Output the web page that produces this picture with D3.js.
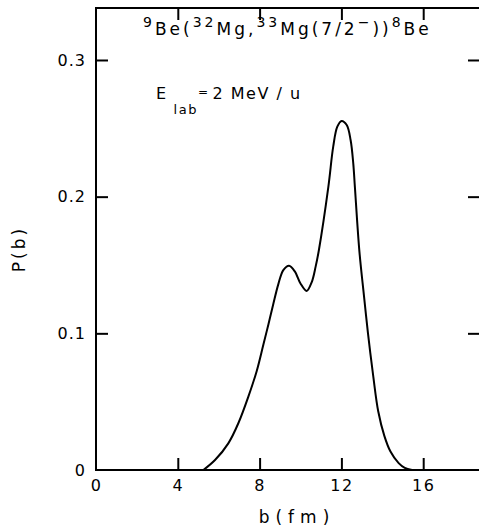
<!DOCTYPE html>
<html>
<head>
<meta charset="utf-8">
<script src="https://cdn.jsdelivr.net/npm/d3@7"></script>
<style>
  html, body { margin: 0; padding: 0; background: #fff; }
  svg { display: block; }
  text { font-family: "DejaVu Sans", sans-serif; fill: #000; }
</style>
</head>
<body>
<svg id="chart" width="479" height="530"></svg>
<script>
// Impact parameter b (fm)
const bValues = [5.25, 5.82, 6.47, 6.96, 7.45, 7.86, 8.18, 8.43, 8.67, 8.92, 9.16, 9.44, 9.73, 10.0, 10.3, 10.55, 10.74, 10.9, 11.36, 11.6, 11.8, 12.01, 12.26, 12.45, 12.58, 12.66, 12.88, 13.1, 13.3, 13.56, 13.8, 14.1, 14.4, 14.8, 15.1, 15.45];
// Probability P(b)
const pValues = [0.0, 0.0073, 0.0195, 0.0342, 0.0537, 0.0725, 0.0915, 0.1065, 0.1215, 0.1362, 0.1463, 0.1495, 0.1451, 0.1365, 0.131, 0.1375, 0.1488, 0.161, 0.207, 0.2366, 0.2512, 0.2554, 0.2524, 0.2415, 0.2244, 0.207, 0.160, 0.128, 0.100, 0.0683, 0.043, 0.025, 0.0135, 0.005, 0.0015, 0.0];
const xTicks = [0, 4, 8, 12, 16];
const xTickLabels = ["0", "4", "8", "12", "16"];
const yTicks = [0, 0.1, 0.2, 0.3];
const yTickLabels = ["0", "0.1", "0.2", "0.3"];

const svg = d3.select("#chart");
const mLeft = 96, mTop = 8, mBottom = 470, mRight = 481;

const x = d3.scaleLinear().domain([0, 16]).range([mLeft, mLeft + 16 * 20.45]);
const y = d3.scaleLinear().domain([0, 0.3]).range([mBottom, mBottom - 0.3 * 1366.7]);

// Frame
svg.append("rect")
  .attr("x", mLeft).attr("y", mTop)
  .attr("width", mRight - mLeft).attr("height", mBottom - mTop)
  .attr("fill", "none").attr("stroke", "#000").attr("stroke-width", 2);

// Bottom axis
const xAxis = d3.axisBottom(x).tickValues(xTicks)
  .tickFormat((d, i) => xTickLabels[i]).tickSize(-12).tickPadding(10);
const gx = svg.append("g").attr("transform", `translate(0,${mBottom})`).call(xAxis);
gx.select(".domain").remove();
gx.selectAll(".tick line").attr("stroke-width", 2).filter(d => d === 0).remove();
gx.selectAll(".tick text").attr("font-size", 16).attr("letter-spacing", 1.5)
  .attr("font-family", "DejaVu Sans");

// Top axis ticks
const xTop = d3.axisTop(x).tickValues(xTicks.filter(d => d > 0)).tickSize(-12).tickFormat("");
const gxt = svg.append("g").attr("transform", `translate(0,${mTop})`).call(xTop);
gxt.select(".domain").remove();
gxt.selectAll(".tick line").attr("stroke-width", 2);

// Left axis
const yAxis = d3.axisLeft(y).tickValues(yTicks)
  .tickFormat((d, i) => yTickLabels[i]).tickSize(-12).tickPadding(10);
const gy = svg.append("g").attr("transform", `translate(${mLeft},0)`).call(yAxis);
gy.select(".domain").remove();
gy.selectAll(".tick line").attr("stroke-width", 2).filter(d => d === 0).remove();
gy.selectAll(".tick text").attr("font-size", 16).attr("letter-spacing", 1)
  .attr("font-family", "DejaVu Sans");

// Right axis ticks
const yRight = d3.axisRight(y).tickValues(yTicks.filter(d => d > 0)).tickSize(-13).tickFormat("");
const gyr = svg.append("g").attr("transform", `translate(${mRight},0)`).call(yRight);
gyr.select(".domain").remove();
gyr.selectAll(".tick line").attr("stroke-width", 2);

// Curve
const data = bValues.map((b, i) => [b, pValues[i]]);
const line = d3.line().x(d => x(d[0])).y(d => y(Math.max(0, d[1]))).curve(d3.curveCatmullRom.alpha(0.5));
svg.append("path").datum(data)
  .attr("d", line).attr("fill", "none").attr("stroke", "#000").attr("stroke-width", 2);

// Axis titles
svg.append("text").attr("x", 297).attr("y", 523).attr("text-anchor", "middle")
  .attr("font-size", 17).attr("letter-spacing", 6).text("b(fm)");
svg.append("text").attr("transform", "translate(25,249) rotate(-90)")
  .attr("text-anchor", "middle").attr("font-size", 17).attr("letter-spacing", 3).text("P(b)");

// Reaction label
const t = svg.append("text").attr("x", 143).attr("y", 35).attr("font-size", 17).attr("letter-spacing", 3);
const parts = [
  ["9", true], ["Be(", false], ["32", true], ["Mg,", false], ["33", true],
  ["Mg(7/2", false], ["\u2212", true], ["))", false], ["8", true], ["Be", false]
];
parts.forEach(([s, sup]) => {
  t.append("tspan").attr("font-size", sup ? 14 : 17)
    .attr("baseline-shift", sup ? "8" : "0").text(s);
});

const e = svg.append("text").attr("x", 156).attr("y", 99).attr("font-size", 16).attr("letter-spacing", 1.5);
e.append("tspan").text("E");
e.append("tspan").attr("font-size", 13).attr("dx", 6).attr("baseline-shift", "-15").text("lab");
e.append("tspan").attr("font-size", 12).attr("baseline-shift", "3").text("=");
e.append("tspan").attr("font-size", 16).attr("dx", 3).text("2 MeV / u");
</script>
</body>
</html>
